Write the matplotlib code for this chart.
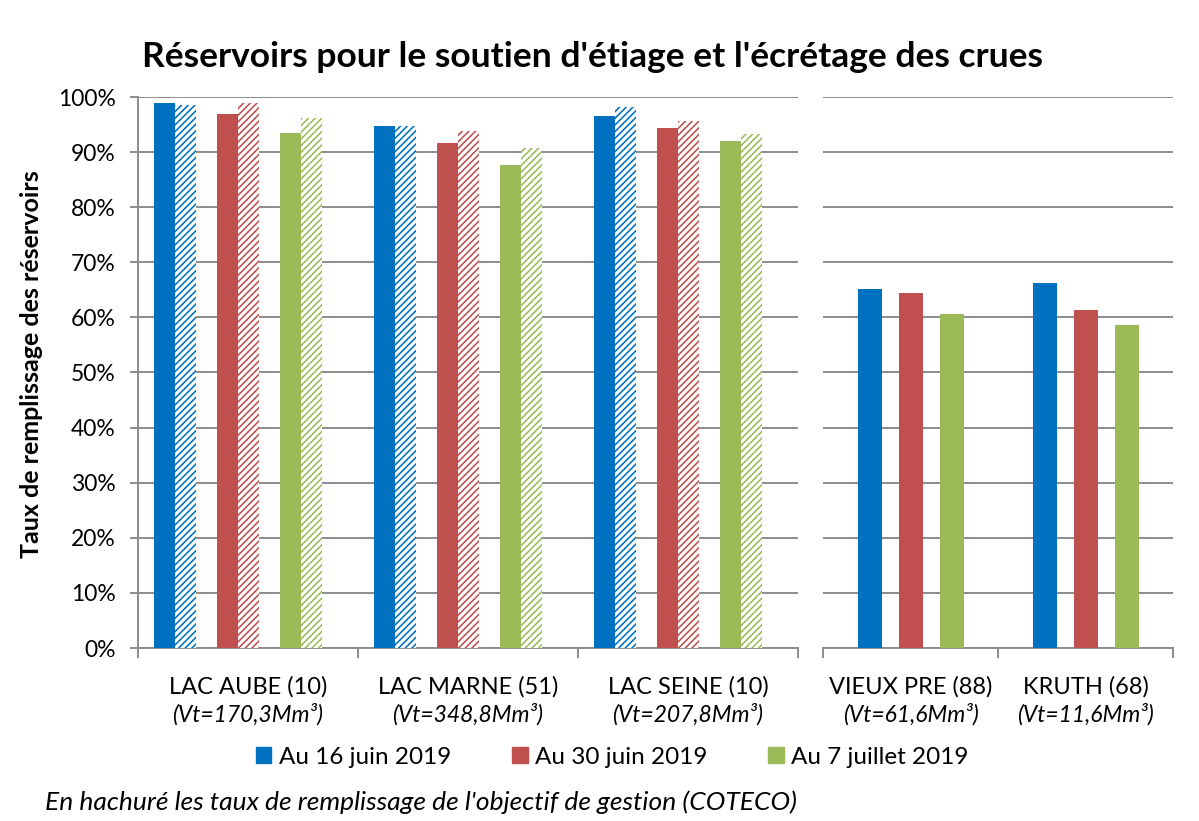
import matplotlib
matplotlib.use('Agg')
import matplotlib.pyplot as plt
from matplotlib.patches import Patch
import numpy as np

plt.rcParams['font.family'] = ['Lato', 'DejaVu Sans']
plt.rcParams['hatch.linewidth'] = 1.15

# lacs-reservoirs (with objective in hatched bars)
lacs = ['LAC AUBE (10)', 'LAC MARNE (51)', 'LAC SEINE (10)']
lacs_vt = ['(Vt=170,3Mm³)', '(Vt=348,8Mm³)', '(Vt=207,8Mm³)']
lacs_16juin = [98.9, 94.8, 96.6]
lacs_16juin_obj = [98.5, 94.8, 98.2]
lacs_30juin = [96.9, 91.6, 94.3]
lacs_30juin_obj = [98.9, 93.8, 95.6]
lacs_7juil = [93.5, 87.7, 92.1]
lacs_7juil_obj = [96.1, 90.7, 93.2]

# other reservoirs
barrages = ['VIEUX PRE (88)', 'KRUTH (68)']
barrages_vt = ['(Vt=61,6Mm³)', '(Vt=11,6Mm³)']
barr_16juin = [65.1, 66.2]
barr_30juin = [64.4, 61.3]
barr_7juil = [60.6, 58.6]

series = ['Au 16 juin 2019', 'Au 30 juin 2019', 'Au 7 juillet 2019']
colors = ['#0070C0', '#C0504D', '#9BBB59']
grid_col = '#8C8C8C'

W, H = 1199, 821
fig = plt.figure(figsize=(W / 100, H / 100), dpi=100)

def fx(px):
    return px / W

def fy(px):
    return 1 - px / H

ax1 = fig.add_axes([fx(138), fy(648), fx(798 - 138), (648 - 97) / H])
ax2 = fig.add_axes([fx(823), fy(648), fx(1173 - 823), (648 - 97) / H])

# --- left panel
x = np.arange(len(lacs))
w = 21 / 220
solid = [lacs_16juin, lacs_30juin, lacs_7juil]
hatched = [lacs_16juin_obj, lacs_30juin_obj, lacs_7juil_obj]
for i in range(3):
    ax1.bar(x + (3 * i - 4) * w, solid[i], w, color=colors[i], zorder=3)
    ax1.bar(x + (3 * i - 3) * w, hatched[i], w, facecolor='white',
            edgecolor=colors[i], hatch='/////', linewidth=0, zorder=3)

# --- right panel
x2 = np.arange(len(barrages))
w2 = 24 / 175
step = 41 / 175
barr = [barr_16juin, barr_30juin, barr_7juil]
for i in range(3):
    ax2.bar(x2 + (i - 1) * step, barr[i], w2, color=colors[i], zorder=3)

for ax, n in [(ax1, 3), (ax2, 2)]:
    ax.set_xlim(-0.5, n - 0.5)
    ax.set_ylim(0, 100)
    ax.set_yticks(np.arange(0, 101, 10))
    ax.yaxis.grid(True, color=grid_col, linewidth=1.4, zorder=0)
    ax.set_axisbelow(True)
    for s in ['top', 'right']:
        ax.spines[s].set_visible(False)
    ax.spines['bottom'].set_color(grid_col)
    ax.spines['bottom'].set_linewidth(1.4)
    ax.set_xticks(np.arange(-0.5, n, 1.0))
    ax.set_xticklabels([])
    ax.tick_params(axis='x', length=7, width=1.4, color=grid_col, direction='out')

ax1.spines['left'].set_color(grid_col)
ax1.spines['left'].set_linewidth(1.4)
ax1.set_yticklabels([f'{v}%' for v in range(0, 101, 10)], fontsize=16.5)
ax1.tick_params(axis='y', length=6, width=1.4, color=grid_col, pad=10)
ax2.spines['left'].set_visible(False)
ax2.tick_params(axis='y', length=0, labelleft=False)

# category labels
for ax, names, vts in [(ax1, lacs, lacs_vt), (ax2, barrages, barrages_vt)]:
    for i, (nm, vt) in enumerate(zip(names, vts)):
        ax.text(i, -0.07, nm, transform=ax.get_xaxis_transform(),
                ha='center', va='center', fontsize=17)
        ax.text(i, -0.12, vt, transform=ax.get_xaxis_transform(),
                ha='center', va='center', fontsize=16.5, style='italic')

fig.text(fx(592), fy(57), "Réservoirs pour le soutien d'étiage et l'écrétage des crues",
         ha='center', va='center', fontsize=25.5, fontweight='bold')
fig.text(fx(32), fy(364), 'Taux de remplissage des réservoirs', rotation=90,
         ha='center', va='center', fontsize=18, fontweight='bold')

handles = [Patch(color=c) for c in colors]
fig.legend(handles, series, loc='center', bbox_to_anchor=(fx(612), fy(757)),
           ncol=3, frameon=False, fontsize=17.5, handlelength=0.65,
           handleheight=0.65, handletextpad=0.3, columnspacing=2.5)

fig.text(fx(45), fy(802),
         "En hachuré les taux de remplissage de l'objectif de gestion (COTECO)",
         ha='left', va='center', fontsize=19, style='italic')

fig.savefig('out.png', dpi=100)
